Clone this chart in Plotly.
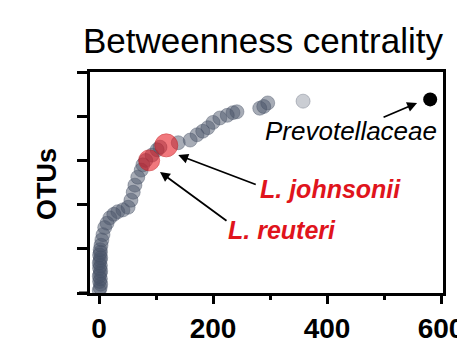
import plotly.graph_objects as go

# Betweenness centrality (x) vs. OTU rank (y)
otu_x = [0.5, 2, 3, 1, 2.5, 0.5, 2, 3, 1, 2.5, 0.5, 2, 3, 1, 2.5, 2,
         3.5, 5, 7, 10, 14, 19, 26, 33, 42, 51, 56, 60, 63, 68, 74, 77, 82,
         93, 102, 107, 139, 160, 172, 182, 191, 200, 212, 225, 235, 242,
         282, 289, 296]
otu_y = [3, 6, 10, 13, 16, 19, 22, 25, 28, 31, 34, 37, 40, 43, 46, 49,
         54, 60, 66, 74, 79, 85, 89, 92, 94, 97, 105, 114, 122, 131, 139, 145, 150,
         156, 162, 165, 170, 173, 179, 183, 187, 193, 198, 201, 204, 205,
         209, 211, 215]
light_x = [358]
light_y = [217]
red_names = ["L. reuteri", "L. johnsonii"]
red_x = [88, 118]
red_y = [150, 167]
prev_x = [581]
prev_y = [219]

x_ticks = [0, 200, 400, 600]
x_minor = [100, 300, 500]
y_ticks = [0, 50, 100, 150, 200, 250]

FONT = "Liberation Sans, Arial, sans-serif"
GRAY = "rgba(72,82,102,0.48)"

fig = go.Figure()
fig.add_trace(go.Scatter(x=otu_x, y=otu_y, mode="markers",
                         marker=dict(size=14, color=GRAY,
                                     line=dict(width=1, color="rgba(72,82,102,0.4)")),
                         showlegend=False, hoverinfo="skip"))
fig.add_trace(go.Scatter(x=light_x, y=light_y, mode="markers",
                         marker=dict(size=14, color="rgba(150,155,168,0.5)",
                                     line=dict(width=1, color="rgba(130,135,150,0.5)")),
                         showlegend=False))
fig.add_trace(go.Scatter(x=red_x, y=red_y, mode="markers", text=red_names,
                         marker=dict(size=[21, 23], color="rgba(232,22,30,0.82)",
                                     line=dict(width=1, color="rgba(200,20,25,0.8)")),
                         showlegend=False))
fig.add_trace(go.Scatter(x=prev_x, y=prev_y, mode="markers",
                         marker=dict(size=14, color="black"),
                         showlegend=False))

axis_common = dict(showline=True, linecolor="black", linewidth=3, mirror=True,
                   showgrid=False, zeroline=False, ticks="outside",
                   tickcolor="black", tickwidth=3, automargin=False)

fig.update_xaxes(range=[-15.8, 603.5], tickvals=x_ticks, ticklen=8,
                 tickfont=dict(family=FONT, size=28, color="black", weight="bold"),
                 minor=dict(tickvals=x_minor, ticklen=4, tickwidth=3,
                            tickcolor="black", ticks="outside"),
                 **axis_common)
fig.update_yaxes(range=[0, 250], tickvals=y_ticks, ticklen=10,
                 showticklabels=False, **axis_common)

ann = []
# arrows
for hx, hy, ax, ay, col in [(558, 215, -35, 15, "black"),
                            (139, 156, 79, 30, "black"),
                            (107, 137, 68, 50, "black")]:
    ann.append(dict(x=hx, y=hy, xref="x", yref="y", text="", showarrow=True,
                    ax=ax, ay=ay, arrowhead=2, arrowsize=1.1, arrowwidth=1.8,
                    arrowcolor=col))


def label(px, py, text, size, color, angle=0):
    return dict(x=(px - 90) / 353, y=(293 - py) / 221, xref="paper", yref="paper",
                xanchor="center", yanchor="middle", text=text, showarrow=False,
                textangle=angle, font=dict(family=FONT, size=size, color=color))


ann.append(label(351, 131, "<i>Prevotellaceae</i>", 26, "black"))
ann.append(label(330, 189, "<b><i>L. johnsonii</i></b>", 25, "#e0141c"))
ann.append(label(282, 230, "<b><i>L. reuteri</i></b>", 25, "#e0141c"))
ann.append(label(47, 184, "<b>OTUs</b>", 27, "black", -90))
ann.append(label(263, 40, "Betweenness centrality", 35, "black"))

# the page body adds an 8px offset, so the figure is sized to fit the window
fig.update_layout(
    width=457, height=340,
    margin=dict(l=82, r=22, t=64, b=55, autoexpand=False),
    paper_bgcolor="white", plot_bgcolor="white",
    annotations=ann,
    shapes=[dict(type="line", xref="paper", yref="paper",
                 x0=-11 / 353, x1=0, y0=0, y1=0,
                 line=dict(color="black", width=3))],
)

fig.write_html("out.html")
